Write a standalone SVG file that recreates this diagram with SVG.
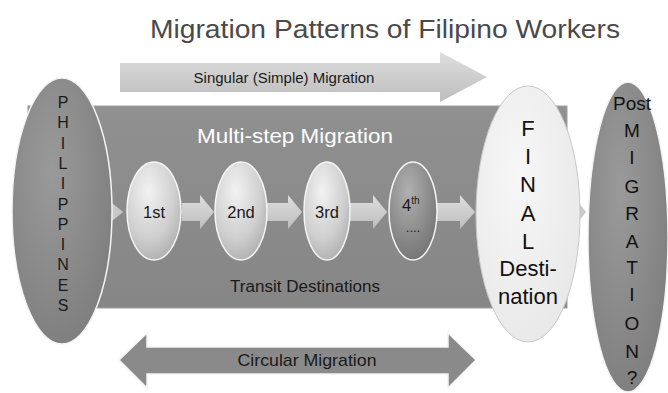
<svg xmlns="http://www.w3.org/2000/svg" width="668" height="393" viewBox="0 0 668 393">
<style>
.t{font-family:"Liberation Sans",Arial,sans-serif;fill:#1a1a1a}
.c{text-anchor:middle;dominant-baseline:central}
.st{stroke:#f4f4f4;stroke-width:1.5}
</style>
<defs>
<radialGradient id="gDark" cx="0.4" cy="0.35" r="0.75">
<stop offset="0" stop-color="#9a9a9a"/><stop offset="1" stop-color="#7c7c7c"/>
</radialGradient>
<radialGradient id="gLight" cx="0.4" cy="0.3" r="0.8">
<stop offset="0" stop-color="#f2f2f2"/><stop offset="0.6" stop-color="#cfcfcf"/><stop offset="1" stop-color="#a8a8a8"/>
</radialGradient>
<radialGradient id="g4" cx="0.4" cy="0.3" r="0.8">
<stop offset="0" stop-color="#b0b0b0"/><stop offset="1" stop-color="#6f6f6f"/>
</radialGradient>
<radialGradient id="gFinal" cx="0.4" cy="0.35" r="0.8">
<stop offset="0" stop-color="#f7f7f7"/><stop offset="1" stop-color="#e6e6e6"/>
</radialGradient>
<linearGradient id="gArrow" x1="0" y1="0" x2="0" y2="1">
<stop offset="0" stop-color="#dedede"/><stop offset="1" stop-color="#bdbdbd"/>
</linearGradient>
<linearGradient id="gRect" x1="0" y1="0" x2="0" y2="1">
<stop offset="0" stop-color="#909090"/><stop offset="1" stop-color="#868686"/>
</linearGradient>
</defs>

<text class="t" x="385" y="38" font-size="25" text-anchor="middle" style="fill:#4a4a4a" textLength="470" lengthAdjust="spacingAndGlyphs">Migration Patterns of Filipino Workers</text>

<g id="singular">
<path d="M120,63 H440 V52 L487,77 L440,102 V92 H120 Z" fill="url(#gArrow)"/>
<text class="t c" x="284" y="77" font-size="15">Singular (Simple) Migration</text>
</g>

<g id="multistep">
<rect x="28" y="106" width="539" height="202" fill="url(#gRect)" stroke="#a0a0a0" stroke-width="1"/>
<text x="295" y="135" font-family="Liberation Sans,Arial,sans-serif" font-size="21" fill="#ffffff" text-anchor="middle" dominant-baseline="central" textLength="196" lengthAdjust="spacingAndGlyphs">Multi-step Migration</text>
<text class="t c" x="305" y="286" font-size="16" textLength="150" lengthAdjust="spacingAndGlyphs">Transit Destinations</text>
</g>

<g id="connectors">
<path d="M112,203 L123,212 L112,221 Z" fill="#c8c8c8"/>
<path d="M182,203 H200 V195 L214,212 L200,229 V221 H182 Z" fill="url(#gArrow)"/>
<path d="M267,203 H288 V195 L302,212 L288,229 V221 H267 Z" fill="url(#gArrow)"/>
<path d="M350,203 H373 V195 L387,212 L373,229 V221 H350 Z" fill="url(#gArrow)"/>
<path d="M437,203 H460 V195 L475,212 L460,229 V221 H437 Z" fill="url(#gArrow)"/>
<path d="M579,203 L586,212 L579,221 Z" fill="#c8c8c8"/>
</g>

<g id="philippines">
<ellipse cx="62" cy="211" rx="50" ry="133" fill="url(#gDark)" class="st"/>
<g class="t c" font-size="16">
<text x="63" y="102">P</text><text x="63" y="122">H</text><text x="63" y="143">I</text><text x="63" y="163">L</text><text x="63" y="183">I</text><text x="63" y="204">P</text><text x="63" y="224">P</text><text x="63" y="244">I</text><text x="63" y="264">N</text><text x="63" y="285">E</text><text x="63" y="305">S</text>
</g>
</g>

<g id="n1"><ellipse cx="154" cy="211" rx="27" ry="49" fill="url(#gLight)" class="st"/><text class="t c" x="154" y="212" font-size="16.5">1st</text></g>
<g id="n2"><ellipse cx="241" cy="211" rx="26" ry="49" fill="url(#gLight)" class="st"/><text class="t c" x="241" y="212" font-size="16.5">2nd</text></g>
<g id="n3"><ellipse cx="327" cy="211" rx="23" ry="49" fill="url(#gLight)" class="st"/><text class="t c" x="327" y="212" font-size="16.5">3rd</text></g>
<g id="n4"><ellipse cx="413" cy="211" rx="24" ry="49" fill="url(#g4)" class="st"/>
<text class="t" x="402" y="211" font-size="16.5">4<tspan font-size="10" dy="-7">th</tspan></text>
<text class="t c" x="413" y="227" font-size="13">....</text></g>

<g id="final">
<ellipse cx="528" cy="214" rx="52" ry="128" fill="url(#gFinal)" stroke="#c8c8c8" stroke-width="1"/>
<g class="t c" font-size="22" style="fill:#111">
<text x="528" y="128">F</text><text x="528" y="156">I</text><text x="528" y="184">N</text><text x="528" y="213">A</text><text x="528" y="241">L</text><text x="528" y="268">Desti-</text><text x="528" y="296">nation</text>
</g>
</g>

<g id="post">
<ellipse cx="628" cy="237" rx="40" ry="155" fill="url(#gDark)" class="st"/>
<g class="t c" font-size="19" style="fill:#111">
<text x="632" y="103">Post</text><text x="632" y="130">M</text><text x="632" y="157">I</text><text x="632" y="186">G</text><text x="632" y="213">R</text><text x="632" y="241">A</text><text x="632" y="267">T</text><text x="632" y="294">I</text><text x="632" y="323">O</text><text x="632" y="351">N</text><text x="632" y="377">?</text>
</g>
</g>

<g id="circular">
<path d="M119,360 L147,333 V347 H448 V333 L476,360 L448,388 V374 H147 V388 Z" fill="#8a8a8a" stroke="#f4f4f4" stroke-width="1.5"/>
<text class="t c" x="307" y="360" font-size="17" textLength="139" lengthAdjust="spacingAndGlyphs">Circular Migration</text>
</g>
</svg>
